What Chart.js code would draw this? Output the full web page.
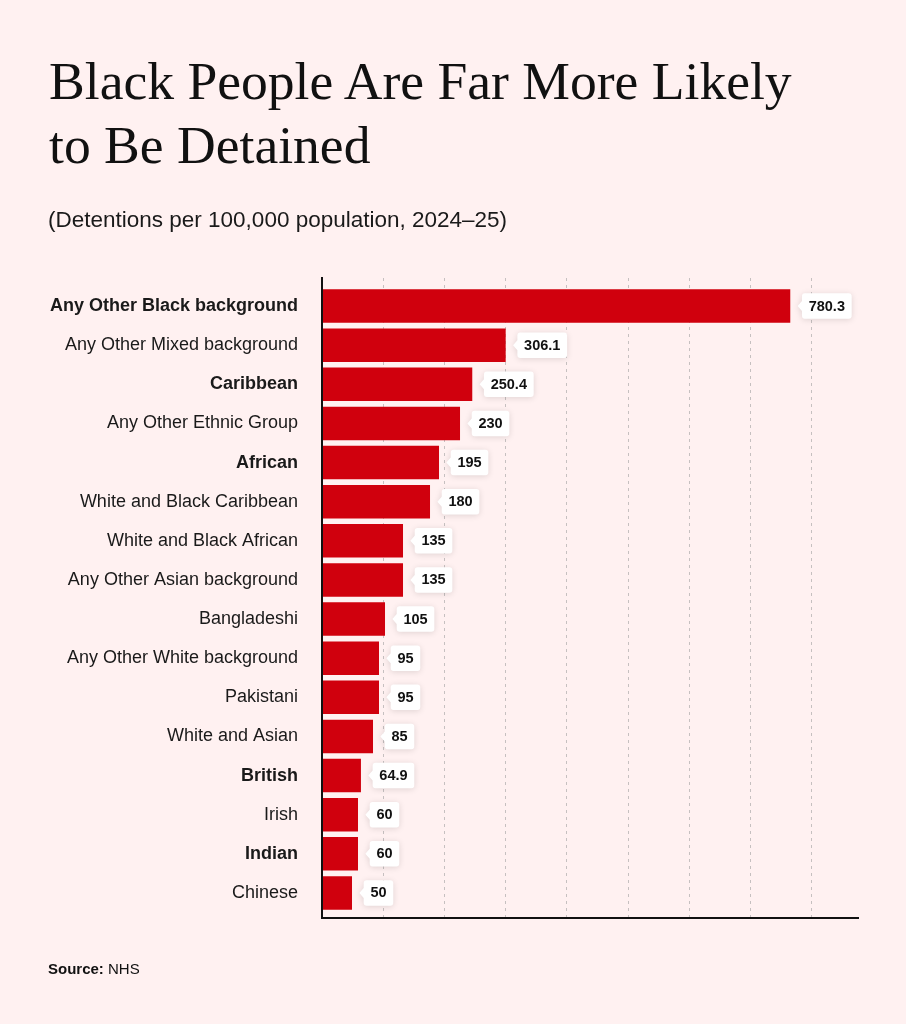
<!DOCTYPE html>
<html>
<head>
<meta charset="utf-8">
<script src="https://cdn.jsdelivr.net/npm/chart.js@4.4.1/dist/chart.umd.min.js"></script>
<style>
html,body{margin:0;padding:0;background:#fff1f1;}
body{width:906px;height:1024px;position:relative;overflow:hidden;font-family:"Liberation Sans",Arial,Helvetica,sans-serif;color:#111;}
#title{position:absolute;left:49px;top:49px;margin:0;font-family:"Liberation Serif","Times New Roman",serif;font-weight:normal;font-size:53.6px;line-height:64px;color:#111;white-space:nowrap;}
#subtitle{position:absolute;left:48px;top:209px;font-size:22.5px;line-height:22px;color:#1a1a1a;white-space:nowrap;}
#source{position:absolute;left:48px;top:961px;font-size:15px;line-height:15px;color:#111;white-space:nowrap;}
canvas{position:absolute;left:0;top:0;}
</style>
</head>
<body>
<canvas id="c" width="906" height="1024"></canvas>
<h1 id="title">Black People Are Far More Likely<br>to Be Detained</h1>
<div id="subtitle">(Detentions per 100,000 population, 2024–25)</div>
<div id="source"><b>Source:</b> NHS</div>
<script>
const categories = [
  'Any Other Black background',
  'Any Other Mixed background',
  'Caribbean',
  'Any Other Ethnic Group',
  'African',
  'White and Black Caribbean',
  'White and Black African',
  'Any Other Asian background',
  'Bangladeshi',
  'Any Other White background',
  'Pakistani',
  'White and Asian',
  'British',
  'Irish',
  'Indian',
  'Chinese'
];
const values = [780.3, 306.1, 250.4, 230, 195, 180, 135, 135, 105, 95, 95, 85, 64.9, 60, 60, 50];
const boldCategories = ['Any Other Black background', 'Caribbean', 'African', 'British', 'Indian'];
const xMax = 894;
const gridStep = 102;

const FONT = '"Liberation Sans", Arial, Helvetica, sans-serif';

const valueLabelPlugin = {
  id: 'valueLabels',
  afterDatasetsDraw(chart) {
    const ctx = chart.ctx;
    const meta = chart.getDatasetMeta(0);
    ctx.save();
    ctx.font = 'bold 14.5px ' + FONT;
    meta.data.forEach((bar, i) => {
      const text = String(values[i]);
      const tw = ctx.measureText(text).width;
      const left = bar.x + 11.7, h = 25.5, w = tw + 13.4, top = bar.y - h / 2, r = 3;
      ctx.beginPath();
      ctx.moveTo(left + r, top);
      ctx.lineTo(left + w - r, top);
      ctx.arcTo(left + w, top, left + w, top + r, r);
      ctx.lineTo(left + w, top + h - r);
      ctx.arcTo(left + w, top + h, left + w - r, top + h, r);
      ctx.lineTo(left + r, top + h);
      ctx.arcTo(left, top + h, left, top + h - r, r);
      ctx.lineTo(left, bar.y + 5);
      ctx.lineTo(bar.x + 7.4, bar.y);
      ctx.lineTo(left, bar.y - 5);
      ctx.lineTo(left, top + r);
      ctx.arcTo(left, top, left + r, top, r);
      ctx.closePath();
      ctx.shadowColor = 'rgba(0,0,0,0.13)';
      ctx.shadowBlur = 6;
      ctx.shadowOffsetY = 1;
      ctx.fillStyle = '#ffffff';
      ctx.fill();
      ctx.shadowColor = 'transparent';
      ctx.fillStyle = '#111';
      ctx.textBaseline = 'middle';
      ctx.textAlign = 'left';
      ctx.fillText(text, left + 6.7, bar.y + 0.5);
    });
    ctx.restore();
  }
};

new Chart(document.getElementById('c'), {
  type: 'bar',
  data: {
    datasets: [{
      data: values.map((v, i) => ({ x: v, y: i })),
      backgroundColor: '#d0000d',
      borderWidth: 0,
      barPercentage: 0.856,
      categoryPercentage: 1
    }]
  },
  options: {
    indexAxis: 'y',
    responsive: false,
    animation: false,
    layout: { padding: { top: 278, right: 47.5, bottom: 106, left: 0 } },
    plugins: { legend: { display: false }, tooltip: { enabled: false } },
    scales: {
      x: {
        type: 'linear',
        position: 'bottom',
        min: 0,
        max: xMax,
        offset: false,
        afterBuildTicks: (s) => {
          const t = [];
          for (let v = 0; v <= xMax - gridStep / 2; v += gridStep) t.push({ value: v });
          s.ticks = t;
        },
        afterFit: (s) => { s.height = 0; },
        ticks: { display: false },
        grid: {
          color: (ctx) => (ctx.tick && ctx.tick.value === 0) ? 'rgba(0,0,0,0)' : '#c6c0c0',
          lineWidth: 1,
          drawTicks: false
        },
        border: { display: true, color: '#111', width: 2, dash: [3, 4], z: 1 }
      },
      y: {
        type: 'linear',
        reverse: true,
        offset: false,
        min: -0.716,
        max: 15.64,
        afterBuildTicks: (s) => { s.ticks = categories.map((_, i) => ({ value: i })); },
        afterFit: (s) => { s.width = 322; },
        ticks: {
          padding: 24,
          color: '#1a1a1a',
          callback: (v) => categories[v],
          font: (ctx) => ({
            family: FONT,
            size: 18,
            weight: (ctx.tick && boldCategories.includes(categories[ctx.tick.value])) ? 'bold' : 'normal'
          })
        },
        grid: { display: false, drawTicks: false, offset: false },
        border: { display: true, color: '#111', width: 2, z: 1 }
      }
    }
  },
  plugins: [valueLabelPlugin]
});
</script>
</body>
</html>
